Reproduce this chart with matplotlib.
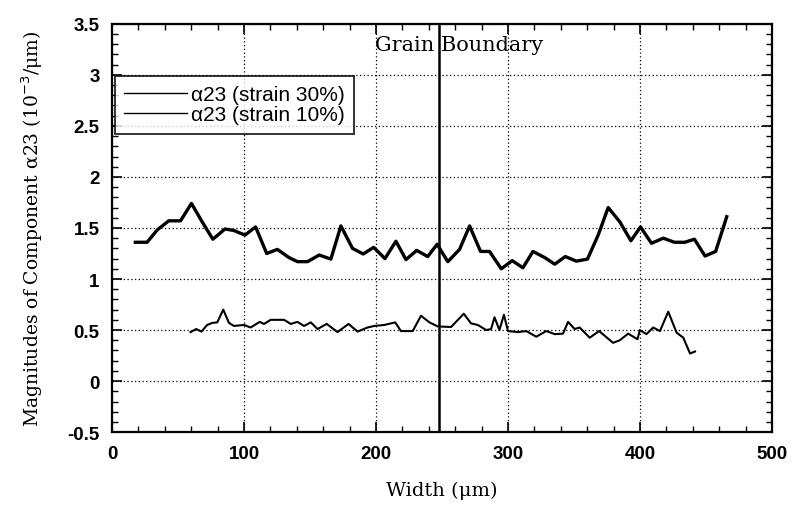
import numpy as np
import matplotlib.pyplot as plt
from matplotlib.ticker import MultipleLocator

# ──────────────────────────────────────────────
# Dados
# ──────────────────────────────────────────────
x_30 = [17.7, 26.6, 34.2, 43.0, 51.9, 60.2, 68.3, 76.4, 85.6, 92.4,
        100.7, 108.8, 117.2, 125.3, 134.1, 140.5, 148.1, 157.0, 165.8, 173.4,
        182.2, 190.3, 198.2, 206.8, 215.1, 222.7, 230.8, 239.2, 246.3, 254.4,
        263.3, 270.9, 279.2, 286.0, 292.3, 294.9, 303.2, 311.3, 318.9, 327.8,
        335.4, 343.4, 351.8, 360.2, 368.3, 375.9, 384.7, 393.1, 400.4, 408.7,
        417.6, 426.0, 434.0, 441.2, 449.3, 457.3, 465.7]
y_30 = [1.36, 1.36, 1.48, 1.57, 1.57, 1.74, 1.56, 1.39, 1.49, 1.475,
        1.43, 1.51, 1.25, 1.29, 1.21, 1.17, 1.17, 1.235, 1.195, 1.52,
        1.30, 1.245, 1.31, 1.20, 1.37, 1.19, 1.28, 1.22, 1.34, 1.17,
        1.29, 1.52, 1.27, 1.27, 1.15, 1.10, 1.18, 1.11, 1.27, 1.21,
        1.145, 1.22, 1.175, 1.195, 1.43, 1.70, 1.56, 1.375, 1.51, 1.35,
        1.40, 1.36, 1.36, 1.39, 1.225, 1.27, 1.61]

x_10 = [59.5, 63.8, 67.8, 72.1, 75.9, 79.7, 84.3, 88.6, 92.4, 100.0,
        105.0, 111.9, 115.2, 120.2, 125.3, 130.4, 135.4, 140.5, 145.5, 150.6,
        155.7, 162.7, 170.8, 179.2, 186.0, 193.6, 198.7, 206.3, 214.6, 218.9,
        227.8, 234.1, 240.5, 246.8, 256.9, 266.5, 272.0, 277.1, 283.5, 287.2,
        289.8, 293.5, 296.9, 300.0, 307.5, 313.8, 321.4, 329.0, 335.4, 341.7,
        345.5, 350.5, 354.3, 361.9, 369.0, 379.6, 384.7, 391.0, 398.1, 399.9,
        404.9, 410.0, 415.1, 421.4, 427.7, 432.8, 437.9, 441.7]
y_10 = [0.48, 0.51, 0.485, 0.55, 0.57, 0.575, 0.70, 0.57, 0.54, 0.55,
        0.525, 0.58, 0.56, 0.60, 0.60, 0.60, 0.56, 0.58, 0.54, 0.575,
        0.51, 0.56, 0.48, 0.56, 0.485, 0.525, 0.54, 0.55, 0.575, 0.49,
        0.49, 0.64, 0.575, 0.535, 0.53, 0.66, 0.565, 0.55, 0.50, 0.51,
        0.625, 0.50, 0.65, 0.49, 0.48, 0.49, 0.435, 0.49, 0.46, 0.465,
        0.58, 0.51, 0.525, 0.425, 0.49, 0.375, 0.40, 0.465, 0.41, 0.50,
        0.46, 0.525, 0.49, 0.68, 0.475, 0.425, 0.27, 0.29]

x_contorno = 248

# ──────────────────────────────────────────────
# Figura
# ──────────────────────────────────────────────
fig = plt.figure(figsize=(8, 5.06), dpi=100)
ax = fig.add_axes([0.14, 0.144, 0.825, 0.807])

ax.plot(x_30, y_30, color="black", lw=2.4, label="α23 (strain 30%)")
ax.plot(x_10, y_10, color="black", lw=1.5, label="α23 (strain 10%)")
ax.axvline(x_contorno, color="black", lw=1.8)

ax.text(199, 3.3, "Grain Boundary", family="DejaVu Serif", fontsize=15,
        va="center", ha="left")

ax.set_xlim(0, 500)
ax.set_ylim(-0.5, 3.5)
ax.xaxis.set_major_locator(MultipleLocator(100))
ax.xaxis.set_minor_locator(MultipleLocator(20))
ax.yaxis.set_major_locator(MultipleLocator(0.5))
ax.yaxis.set_minor_locator(MultipleLocator(0.1))
ax.yaxis.set_major_formatter(plt.FuncFormatter(lambda v, p: f"{v:g}"))

ax.tick_params(which="both", direction="in", top=True, right=True, color="black")
ax.tick_params(which="major", length=7, width=1.2, labelsize=13.5, pad=9)
ax.tick_params(which="minor", length=4, width=1.0)
for lbl in ax.get_xticklabels() + ax.get_yticklabels():
    lbl.set_family("Liberation Sans")
    lbl.set_weight("bold")
for s in ax.spines.values():
    s.set_linewidth(1.6)

ax.grid(True, which="major", color="black", ls=(0, (1, 2)), lw=0.9)

ax.set_xlabel("Width (μm)", family="DejaVu Serif", fontsize=14, labelpad=14)
ax.set_ylabel("Magnitudes of Component α23 (10$^{-3}$/μm)", family="DejaVu Serif",
              fontsize=13.5, labelpad=16)

leg = ax.legend(loc="upper left", bbox_to_anchor=(0.004, 0.872),
                frameon=True, fancybox=False, edgecolor="black",
                prop={"family": "Liberation Sans", "size": 15},
                handlelength=3.0, handletextpad=0.2, borderpad=0.45,
                labelspacing=0.05, borderaxespad=0)
leg.get_frame().set_linewidth(1.4)
for ln in leg.get_lines():
    ln.set_linewidth(1.0)

plt.savefig("out.png", dpi=100)
plt.close()
